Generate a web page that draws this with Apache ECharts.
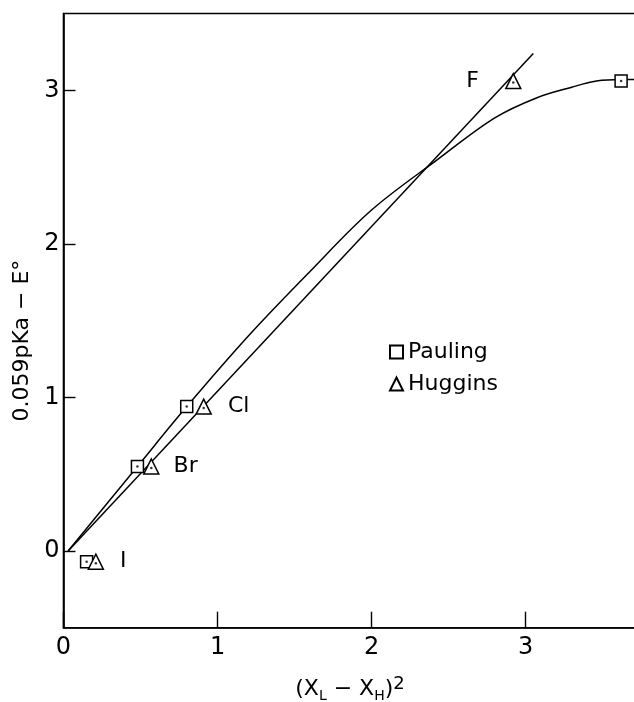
<!DOCTYPE html>
<html><head><meta charset="utf-8">
<script src="https://cdn.jsdelivr.net/npm/echarts@6/dist/echarts.min.js"></script>
<style>html,body{margin:0;padding:0;background:#fff}#c{width:634px;height:702px}</style>
</head><body><div id="c"></div>
<script>
const xTicks = [0, 1, 2, 3];
const yTicks = [0, 1, 2, 3];
const elements = ['I', 'Br', 'Cl', 'F'];
const paulingX = [0.15, 0.48, 0.80, 3.62];
const paulingY = [-0.07, 0.55, 0.94, 3.06];
const hugginsX = [0.21, 0.57, 0.91, 2.92];
const hugginsY = [-0.07, 0.55, 0.94, 3.06];
const curveX = [0.03, 0.48, 0.80, 1.2, 1.6, 2.0, 2.43, 2.8, 3.07, 3.3, 3.46, 3.62, 3.72];
const curveY = [0, 0.55, 0.94, 1.40, 1.82, 2.22, 2.55, 2.82, 2.95, 3.02, 3.06, 3.07, 3.07];
const lineX = [0.03, 3.05];
const lineY = [0, 3.24];

const FONT = 'DejaVu Sans';
const zip = (a, b) => a.map((v, i) => [v, b[i]]);
const labelPos = [
  { position: 'right', distance: 16 },
  { position: 'right', distance: 14 },
  { position: 'right', distance: 16 },
  { position: 'left', distance: 26 }
];
const hugginsData = hugginsX.map((x, i) => ({
  value: [x, hugginsY[i]],
  label: Object.assign({ show: true, formatter: elements[i], fontSize: 22, color: '#000', fontFamily: FONT }, labelPos[i])
}));

const chart = echarts.init(document.getElementById('c'));
chart.setOption({
  animation: false,
  backgroundColor: '#fff',
  grid: { left: 63.5, top: 13.5, bottom: 74.3, width: 573, show: true, borderColor: '#000', borderWidth: 1.6,
          backgroundColor: 'transparent', outerBoundsMode: 'none', containLabel: false },
  legend: {
    data: ['Pauling', 'Huggins'],
    orient: 'vertical', left: 384, top: 336, itemWidth: 13, itemHeight: 13, itemGap: 10,
    textStyle: { fontSize: 22, color: '#000', fontFamily: FONT }
  },
  xAxis: {
    type: 'value', min: 0, max: 3.72,
    name: '(X{sub|L} − X{sub|H}){sup|2}', nameLocation: 'middle', nameGap: 48,
    nameTextStyle: { fontSize: 22, color: '#000', fontFamily: FONT,
      rich: { sub: { fontSize: 14, verticalAlign: 'bottom', padding: [12, 0, 0, 0], fontFamily: FONT, color: '#000' },
              sup: { fontSize: 18, verticalAlign: 'top', padding: [0, 0, 10, 0], fontFamily: FONT, color: '#000' } } },
    axisLine: { show: true, onZero: false, lineStyle: { color: '#000', width: 1.6 } },
    axisTick: { show: true, inside: true, length: 16, customValues: xTicks, lineStyle: { color: '#000', width: 1.4 } },
    axisLabel: { customValues: xTicks, fontSize: 24, color: '#000', fontFamily: FONT, margin: 8 },
    splitLine: { show: false }
  },
  yAxis: {
    type: 'value', min: -0.5, max: 3.5,
    name: '0.059pKa − E°', nameLocation: 'middle', nameGap: 30, nameRotate: 90,
    nameTextStyle: { fontSize: 22, color: '#000', fontFamily: FONT, padding: [0, 40, 0, 0] },
    axisLine: { show: true, onZero: false, lineStyle: { color: '#000', width: 1.6 } },
    axisTick: { show: true, inside: true, length: 12, customValues: yTicks, lineStyle: { color: '#000', width: 1.4 } },
    axisLabel: { customValues: yTicks, fontSize: 24, color: '#000', fontFamily: FONT, margin: 4 },
    splitLine: { show: false }
  },
  series: [
    { type: 'line', name: 'curveP', data: zip(curveX, curveY), smooth: 0.35, symbol: 'none',
      lineStyle: { color: '#000', width: 1.5 }, z: 1 },
    { type: 'line', name: 'lineH', data: zip(lineX, lineY), symbol: 'none',
      lineStyle: { color: '#000', width: 1.5 }, z: 1 },
    { type: 'scatter', name: 'Pauling', data: zip(paulingX, paulingY), symbol: 'rect', symbolSize: 12,
      itemStyle: { color: '#fff', borderColor: '#000', borderWidth: 1.5, opacity: 1 }, z: 3 },
    { type: 'scatter', name: 'Huggins', data: hugginsData, symbol: 'triangle', symbolSize: 15,
      itemStyle: { color: '#fff', borderColor: '#000', borderWidth: 1.5, opacity: 1 }, z: 3 },
    { type: 'scatter', name: 'dotsP', data: zip(paulingX, paulingY), symbol: 'circle', symbolSize: 2.5,
      itemStyle: { color: '#000' }, z: 4 },
    { type: 'scatter', name: 'dotsH', data: zip(hugginsX, hugginsY), symbol: 'circle', symbolSize: 2.5,
      symbolOffset: [0, 1.5], itemStyle: { color: '#000' }, z: 4 }
  ]
});
</script></body></html>
